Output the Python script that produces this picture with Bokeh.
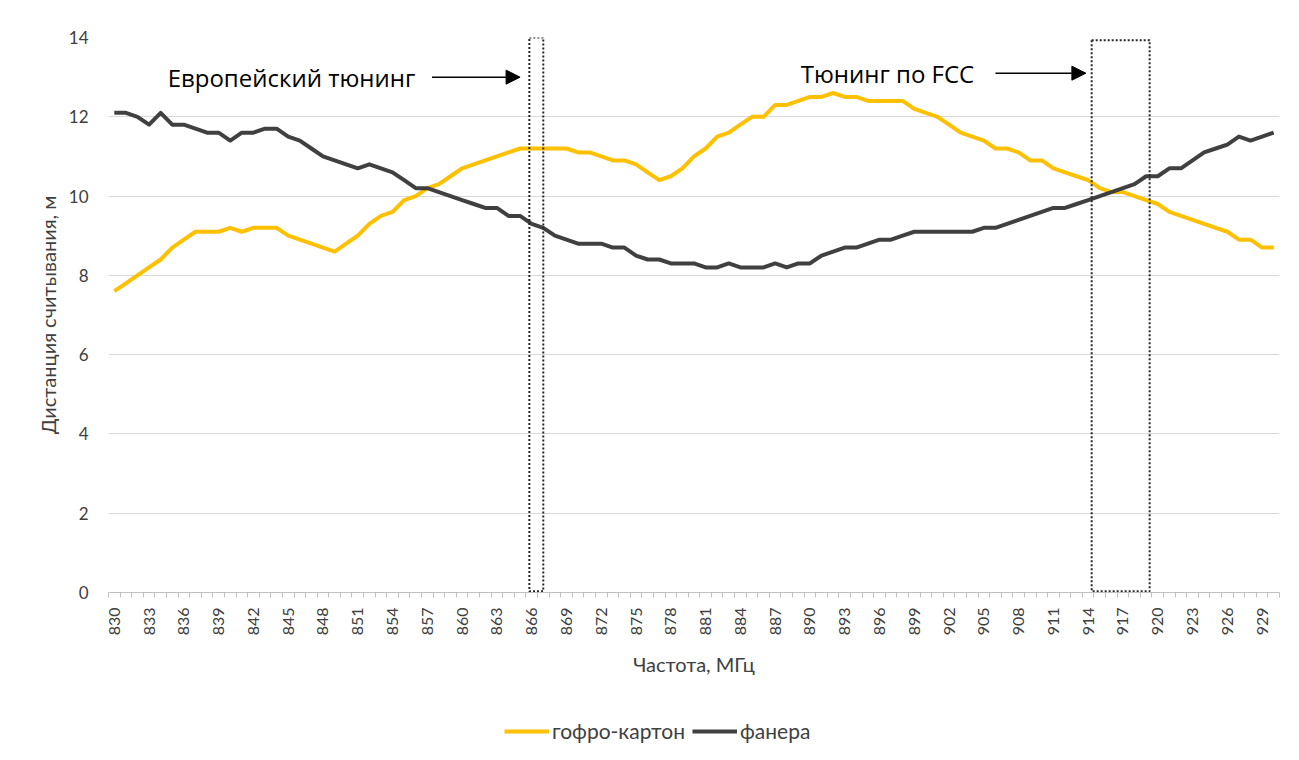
from bokeh.plotting import figure
from bokeh.layouts import column
from bokeh.models import (Range1d, FixedTicker, Legend, LegendItem, Label, Arrow,
                          NormalHead)
from bokeh.embed import file_html
from bokeh.resources import INLINE
import math

# ---- data ----
freq = list(range(830, 931))
karton = [7.6, 7.8, 8.0, 8.2, 8.4, 8.7, 8.9, 9.1, 9.1, 9.1,
          9.2, 9.1, 9.2, 9.2, 9.2, 9.0, 8.9, 8.8, 8.7, 8.6,
          8.8, 9.0, 9.3, 9.5, 9.6, 9.9, 10.0, 10.2, 10.3, 10.5,
          10.7, 10.8, 10.9, 11.0, 11.1, 11.2, 11.2, 11.2, 11.2, 11.2,
          11.1, 11.1, 11.0, 10.9, 10.9, 10.8, 10.6, 10.4, 10.5, 10.7,
          11.0, 11.2, 11.5, 11.6, 11.8, 12.0, 12.0, 12.3, 12.3, 12.4,
          12.5, 12.5, 12.6, 12.5, 12.5, 12.4, 12.4, 12.4, 12.4, 12.2,
          12.1, 12.0, 11.8, 11.6, 11.5, 11.4, 11.2, 11.2, 11.1, 10.9,
          10.9, 10.7, 10.6, 10.5, 10.4, 10.2, 10.1, 10.1, 10.0, 9.9,
          9.8, 9.6, 9.5, 9.4, 9.3, 9.2, 9.1, 8.9, 8.9, 8.7,
          8.7]
fanera = [12.1, 12.1, 12.0, 11.8, 12.1, 11.8, 11.8, 11.7, 11.6, 11.6,
          11.4, 11.6, 11.6, 11.7, 11.7, 11.5, 11.4, 11.2, 11.0, 10.9,
          10.8, 10.7, 10.8, 10.7, 10.6, 10.4, 10.2, 10.2, 10.1, 10.0,
          9.9, 9.8, 9.7, 9.7, 9.5, 9.5, 9.3, 9.2, 9.0, 8.9,
          8.8, 8.8, 8.8, 8.7, 8.7, 8.5, 8.4, 8.4, 8.3, 8.3,
          8.3, 8.2, 8.2, 8.3, 8.2, 8.2, 8.2, 8.3, 8.2, 8.3,
          8.3, 8.5, 8.6, 8.7, 8.7, 8.8, 8.9, 8.9, 9.0, 9.1,
          9.1, 9.1, 9.1, 9.1, 9.1, 9.2, 9.2, 9.3, 9.4, 9.5,
          9.6, 9.7, 9.7, 9.8, 9.9, 10.0, 10.1, 10.2, 10.3, 10.5,
          10.5, 10.7, 10.7, 10.9, 11.1, 11.2, 11.3, 11.5, 11.4, 11.5,
          11.6]
x_tick_labels = freq[::3]
y_ticks = [0, 2, 4, 6, 8, 10, 12, 14]
series_names = ["гофро-картон", "фанера"]
colors = ["#FFC000", "#404040"]

eu_band = (865.8, 867.0)
fcc_band = (914.3, 919.3)

FONT = "Lato"
TXT = "#404040"

p = figure(frame_width=1171, frame_height=555, output_backend="svg",
           toolbar_location=None,
           x_range=Range1d(829.5, 930.5), y_range=Range1d(0, 14),
           min_border_left=108, min_border_right=14, min_border_top=37,
           min_border_bottom=108)
p.outline_line_color = None
p.background_fill_color = "white"
p.border_fill_color = "white"

# axes
xa = p.xaxis[0]
xa.ticker = FixedTicker(ticks=x_tick_labels,
                        minor_ticks=[f - 0.5 for f in freq] + [freq[-1] + 0.5])
xa.major_tick_out = 0
xa.major_tick_in = 0
xa.minor_tick_out = 5
xa.minor_tick_in = 0
xa.minor_tick_line_color = "#bfbfbf"
xa.axis_line_color = "#bfbfbf"
xa.major_label_orientation = math.pi / 2
xa.major_label_standoff = 10
xa.major_label_text_font = FONT
xa.major_label_text_font_size = "16px"
xa.major_label_text_color = TXT
xa.axis_label = "Частота, МГц"
xa.axis_label_text_font = FONT
xa.axis_label_text_font_style = "normal"
xa.axis_label_text_font_size = "20px"
xa.axis_label_text_color = TXT
xa.axis_label_standoff = 14

ya = p.yaxis[0]
ya.ticker = FixedTicker(ticks=y_ticks)
ya.axis_line_color = None
ya.major_tick_line_color = None
ya.minor_tick_line_color = None
ya.major_label_standoff = 14
ya.major_label_text_font = FONT
ya.major_label_text_font_size = "17px"
ya.major_label_text_color = TXT
ya.axis_label = "Дистанция считывания, м"
ya.axis_label_text_font = FONT
ya.axis_label_text_font_style = "normal"
ya.axis_label_text_font_size = "20px"
ya.axis_label_text_color = TXT
ya.axis_label_standoff = 6

p.xgrid.grid_line_color = None
p.ygrid.grid_line_color = "#d9d9d9"
p.ygrid.grid_line_width = 1

# lines
p.line(freq, karton, line_color=colors[0], line_width=4, line_join="round")
p.line(freq, fanera, line_color=colors[1], line_width=4, line_join="round")

# dotted rectangles
for (x0, x1), top in ((eu_band, 14.0), (fcc_band, 13.93)):
    p.quad(left=[x0], right=[x1], bottom=[0.03], top=[top], fill_alpha=0,
           line_color="#262626", line_width=2, line_dash="2 2")

# annotations
p.add_layout(Label(x=834.6, y=12.99, text="Европейский тюнинг", text_align="left",
                   text_baseline="middle", text_font="Open Sans",
                   text_font_size="24px", text_color="black"))
p.add_layout(Label(x=889.2, y=13.09, text="Тюнинг по FCC", text_align="left",
                   text_baseline="middle", text_font="Open Sans",
                   text_font_size="24px", text_color="black"))
p.add_layout(Arrow(x_start=857.4, y_start=13.0, x_end=865.0, y_end=13.0,
                   line_width=1.5, line_color="black",
                   end=NormalHead(size=14, fill_color="black", line_color="black")))
p.add_layout(Arrow(x_start=906.0, y_start=13.1, x_end=913.8, y_end=13.1,
                   line_width=1.5, line_color="black",
                   end=NormalHead(size=14, fill_color="black", line_color="black")))

# legend strip below the chart (legend renderers reuse the series, drawn off-range)
p2 = figure(width=1293, height=60, output_backend="svg", toolbar_location=None,
            x_axis_type=None, y_axis_type=None,
            x_range=Range1d(0, 1), y_range=Range1d(0, 1),
            min_border_left=0, min_border_right=0, min_border_top=0,
            min_border_bottom=0)
p2.outline_line_color = None
p2.xgrid.grid_line_color = None
p2.ygrid.grid_line_color = None
lr1 = p2.line(freq[:2], karton[:2], line_color=colors[0], line_width=4)
lr2 = p2.line(freq[:2], fanera[:2], line_color=colors[1], line_width=4)
legend = Legend(items=[LegendItem(label=series_names[0], renderers=[lr1]),
                       LegendItem(label=series_names[1], renderers=[lr2])],
                orientation="horizontal", location=(396, 17),
                label_text_font=FONT, label_text_font_size="21px",
                label_text_color=TXT, glyph_width=45, label_standoff=3,
                spacing=7, border_line_color=None, background_fill_alpha=0,
                margin=0, padding=4)
p2.add_layout(legend, "center")

open("out.html", "w").write(file_html(column(p, p2, spacing=0), INLINE))
